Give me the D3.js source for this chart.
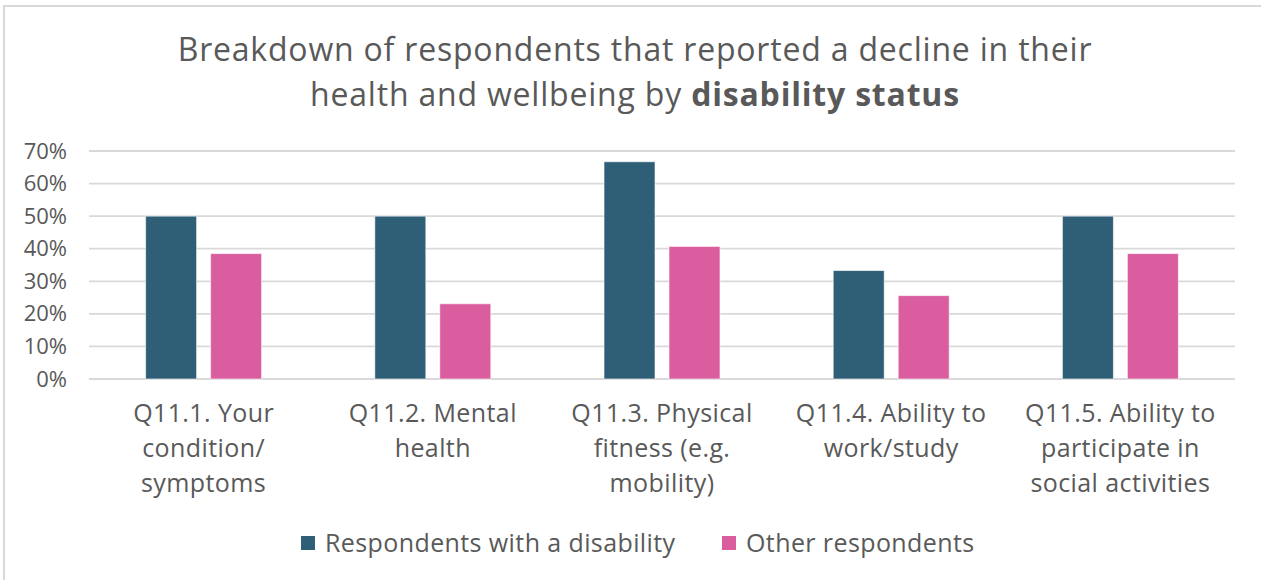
<!DOCTYPE html>
<html>
<head>
<meta charset="utf-8">
<script src="https://cdn.jsdelivr.net/npm/d3@7"></script>
<style>
  html, body { margin: 0; padding: 0; background: #ffffff; }
  svg { display: block; }
  text { font-family: "Open Sans", "Noto Sans", sans-serif; fill: #595959; }
</style>
</head>
<body>
<svg id="chart" width="1261" height="580"></svg>
<script>
// Survey categories (one per question) and the wrapped label lines shown under each group
const categories = ["Q11.1", "Q11.2", "Q11.3", "Q11.4", "Q11.5"];
const categoryLabels = [
  ["Q11.1. Your", "condition/", "symptoms"],
  ["Q11.2. Mental", "health"],
  ["Q11.3. Physical", "fitness (e.g.", "mobility)"],
  ["Q11.4. Ability to", "work/study"],
  ["Q11.5. Ability to", "participate in", "social activities"]
];

// Series: share of respondents reporting a decline
const seriesNames = ["Respondents with a disability", "Other respondents"];
const disabilityValues = [0.50, 0.50, 0.667, 0.333, 0.50];
const otherValues = [0.385, 0.231, 0.407, 0.256, 0.385];
const seriesColors = ["#2F5F77", "#D95D9F"];

// Y-axis ticks
const yTicks = [0, 0.1, 0.2, 0.3, 0.4, 0.5, 0.6, 0.7];

const svg = d3.select("#chart");

// Chart frame
svg.append("path")
  .attr("d", "M4,600 L4,6 L1300,6")
  .attr("fill", "none")
  .attr("stroke", "#d9d9d9")
  .attr("stroke-width", 2);

// Title
const title = svg.append("text")
  .attr("text-anchor", "middle")
  .attr("font-size", 32)
  .attr("letter-spacing", 0.8);
title.append("tspan").attr("x", 635).attr("y", 61)
  .text("Breakdown of respondents that reported a decline in their");
const t2 = title.append("tspan").attr("x", 635).attr("y", 106);
t2.append("tspan").text("health and wellbeing by ");
t2.append("tspan").attr("font-weight", "bold").text("disability status");

// Scales
const x = d3.scaleBand()
  .domain(categories)
  .range([89, 1235])
  .paddingInner(0.494)
  .paddingOuter(0.247);

const xInner = d3.scaleBand()
  .domain(d3.range(seriesNames.length))
  .range([0, x.bandwidth()])
  .paddingInner(0.215)
  .paddingOuter(0);

const y = d3.scaleLinear()
  .domain([0, 0.7])
  .range([379, 151]);

// Gridlines
svg.append("g")
  .selectAll("line")
  .data(yTicks)
  .join("line")
  .attr("x1", 89)
  .attr("x2", 1235)
  .attr("y1", d => y(d))
  .attr("y2", d => y(d))
  .attr("stroke", "#d9d9d9")
  .attr("stroke-width", 1.8);

// Y axis labels
const yAxis = d3.axisLeft(y)
  .tickValues(yTicks)
  .tickFormat(d3.format(".0%"))
  .tickSize(0)
  .tickPadding(0);
const yg = svg.append("g")
  .attr("transform", "translate(67,0)")
  .call(yAxis);
yg.select(".domain").remove();
yg.selectAll("text")
  .attr("font-size", 22)
  .attr("fill", "#595959")
  .attr("font-family", "'Open Sans', sans-serif");

// Bars
const rows = categories.map((c, i) => ({
  cat: c,
  values: [disabilityValues[i], otherValues[i]]
}));

const groups = svg.append("g")
  .selectAll("g")
  .data(rows)
  .join("g")
  .attr("transform", d => `translate(${x(d.cat)},0)`);

groups.selectAll("rect")
  .data(d => d.values.map((v, k) => ({ v, k })))
  .join("rect")
  .attr("x", d => xInner(d.k))
  .attr("y", d => y(d.v))
  .attr("width", xInner.bandwidth())
  .attr("height", d => y(0) - y(d.v))
  .attr("fill", d => seriesColors[d.k])
  .attr("stroke", "#ffffff")
  .attr("stroke-opacity", 0.6)
  .attr("stroke-width", 1);

// Category labels
const xg = svg.append("g");
categories.forEach((c, i) => {
  const t = xg.append("text")
    .attr("text-anchor", "middle")
    .attr("font-size", 25)
    .attr("letter-spacing", 0.4);
  categoryLabels[i].forEach((line, j) => {
    t.append("tspan")
      .attr("x", x(c) + x.bandwidth() / 2)
      .attr("y", 422 + j * 35)
      .text(line);
  });
});

// Legend
const legendX = [301, 722];
const legend = svg.append("g");
seriesNames.forEach((name, k) => {
  legend.append("rect")
    .attr("x", legendX[k])
    .attr("y", 536)
    .attr("width", 14)
    .attr("height", 14)
    .attr("fill", seriesColors[k]);
  legend.append("text")
    .attr("x", legendX[k] + 24)
    .attr("y", 552)
    .attr("font-size", 25)
    .attr("letter-spacing", 0.4)
    .text(name);
});
</script>
</body>
</html>
